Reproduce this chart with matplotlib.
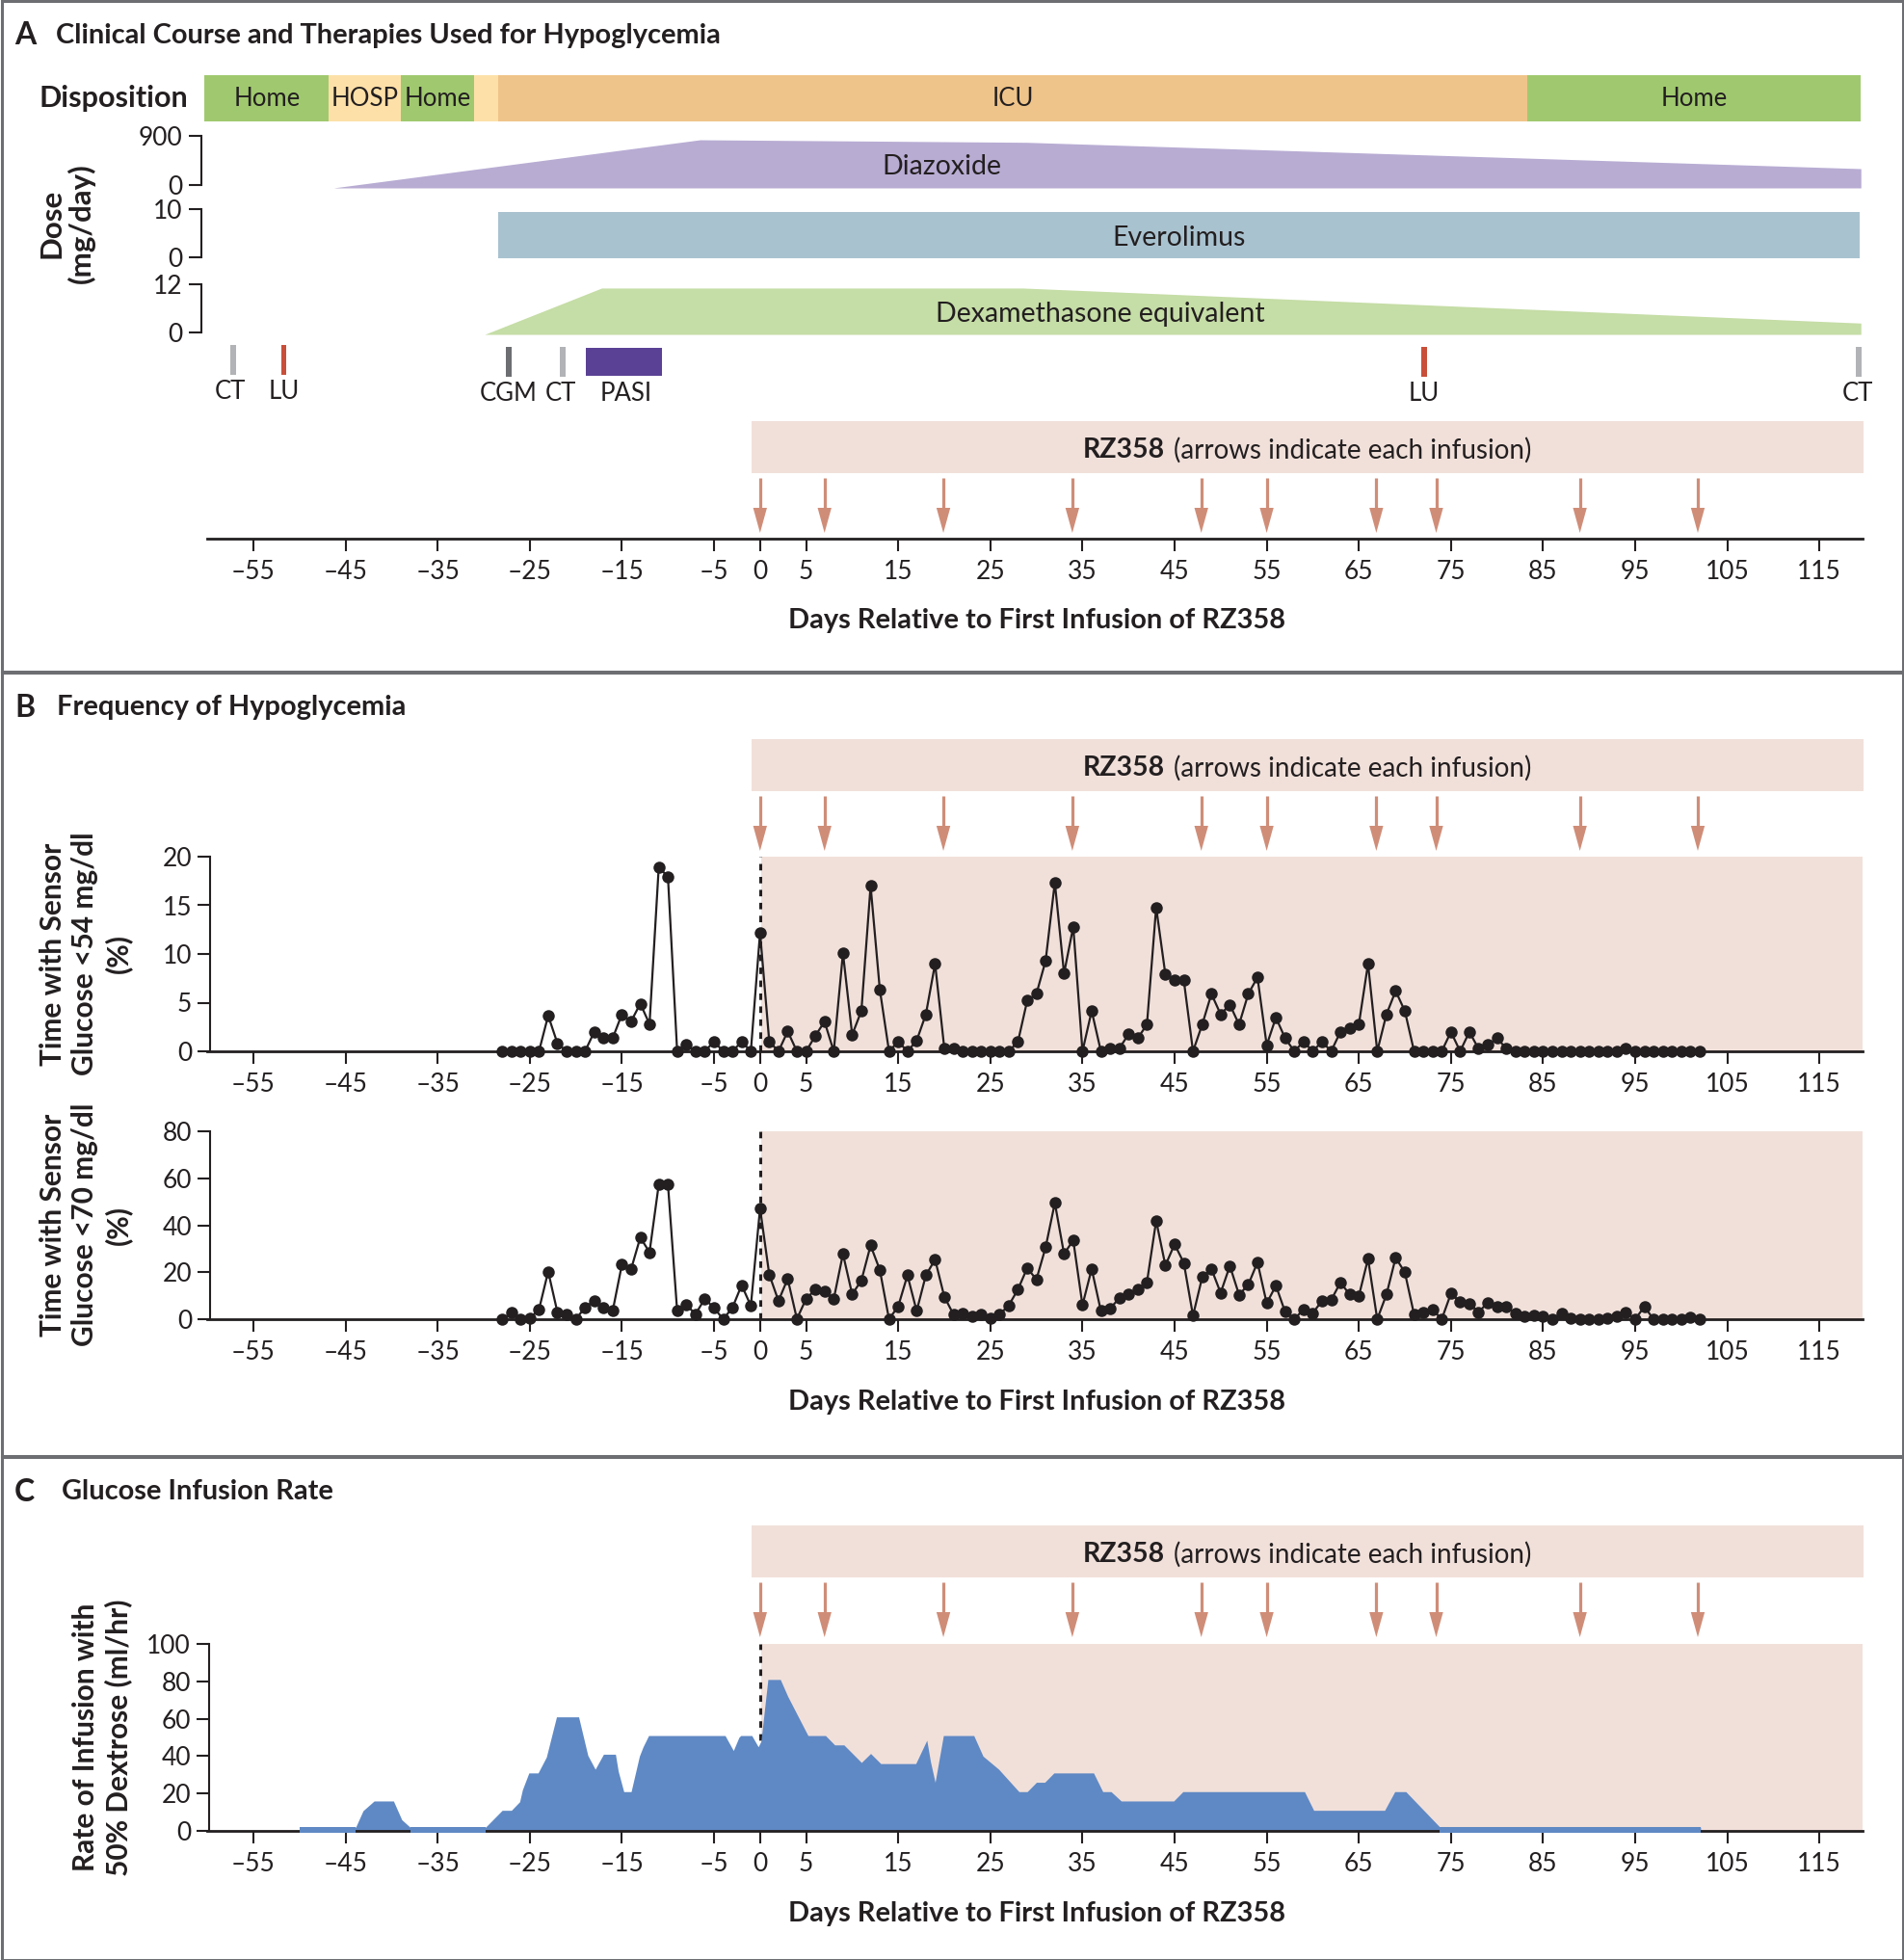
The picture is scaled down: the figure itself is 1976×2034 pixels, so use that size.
import matplotlib
matplotlib.use('Agg')
import matplotlib.pyplot as plt
from matplotlib.patches import Rectangle

W, H = 1976, 2034
plt.rcParams['font.family'] = ['Lato', 'Open Sans', 'DejaVu Sans']

INK = '#231f20'
BAND = '#f1e0da'
ARROW = '#cf8d78'
TICK_FS = 19
HEAD_FS = 20.9
YLAB_FS = 21.5

# drawn positions of the arrows
infusion_days = [0, 7, 19.9, 33.9, 47.9, 55, 66.9, 73.4, 89, 101.8]
tick_days = [-55, -45, -35, -25, -15, -5, 0, 5, 15, 25, 35, 45, 55, 65, 75, 85, 95, 105, 115]

disp_edges = [-60.3, -46.8, -39, -31, -28.4, 83.3, 119.5]
disp_labels = ['Home', 'HOSP', 'Home', '', 'ICU', 'Home']
disp_colors = ['#a0c96f', '#fde0a8', '#a0c96f', '#fde0a8', '#efc48a', '#a0c96f']

diaz_days = [-46.2, -6.5, 28.9, 119.5]
diaz_dose = [-50, 829, 782, 300]
ever_days = [-28.4, 119.4]
ever_dose = [9.4, 9.4]
dexa_days = [-29.9, -17.2, 28.5, 119.5]
dexa_dose = [-0.36, 11.07, 11.07, 2.43]

day_54 = list(range(-28, 103))
below_54 = [0, 0, 0, 0, 0, 3.67, 0.83, 0, 0, 0, 2.0, 1.35, 1.35, 3.8, 3.07, 4.9, 2.8, 18.9, 17.95, 0,
            0.7, 0, 0, 1.0, 0, 0, 1.0, 0, 12.2, 1.0, 0, 2.05, 0, 0, 1.6, 3.05, 0, 10.1, 1.7, 4.15,
            17.0, 6.35, 0, 1.0, 0, 1.1, 3.8, 9.0, 0.33, 0.33, 0, 0, 0, 0, 0, 0, 1.0, 5.2, 5.9, 9.3,
            17.35, 8.0, 12.8, 0, 4.15, 0, 0.3, 0.3, 1.75, 1.35, 2.75, 14.8, 7.9, 7.3, 7.3, 0, 2.75, 5.9, 3.8, 4.8,
            2.75, 5.9, 7.6, 0.63, 3.47, 1.35, 0, 1.0, 0, 1.0, 0, 2.0, 2.4, 2.75, 9.0, 0, 3.8, 6.2, 4.13, 0,
            0, 0, 0, 2.0, 0, 2.0, 0.26, 0.66, 1.35, 0.3, 0, 0, 0, 0, 0, 0, 0, 0, 0, 0,
            0, 0, 0.3, 0, 0, 0, 0, 0, 0, 0, 0]
below_70 = [0, 2.7, 0, 0.4, 4.1, 20.3, 3.0, 1.9, 0, 5.0, 7.9, 5.0, 3.5, 23.2, 21.3, 34.8, 28.5, 57.3, 57.5, 3.5,
            6.0, 2.2, 8.7, 4.8, 0, 4.9, 14.5, 5.7, 47.2, 19.0, 7.8, 17.2, 0.1, 8.7, 12.6, 11.7, 8.6, 27.8, 10.6, 16.5,
            31.4, 21.0, 0, 5.5, 18.7, 3.5, 18.7, 25.4, 9.6, 2.0, 2.5, 1.1, 1.9, 0.5, 2.0, 5.9, 12.7, 21.8, 16.9, 30.6,
            49.5, 27.8, 33.6, 6.0, 21.4, 3.5, 4.6, 8.9, 10.6, 12.7, 15.7, 41.9, 22.9, 31.9, 24.0, 1.5, 17.9, 21.4, 11.2, 22.7,
            10.4, 14.7, 24.2, 6.8, 14.3, 3.1, 0, 4.2, 2.6, 7.8, 8.2, 15.6, 10.6, 9.8, 25.7, 0, 10.5, 26.2, 19.9, 2.0,
            3.0, 4.1, 0, 10.9, 7.4, 6.6, 3.0, 7.1, 5.2, 5.3, 2.3, 1.1, 1.8, 1.4, 0, 2.6, 0.5, 0, 0, 0,
            0.4, 1.1, 2.9, 0, 5.3, 0, 0, 0, 0, 0.8, 0]

rate_days = [-50, -43.9, -43.1, -41.9, -39.8, -38.9, -38, -29.8, -28, -27, -26.1, -25.8, -25.1, -24.1, -23.2,
             -22.1, -19.7, -18.7, -17.9, -17, -15.7, -15.4, -14.8, -14, -13.1, -12.7, -12.1, -3.8, -2.9, -2.3,
             -2.1, -0.9, -0.2, 0.1, 0.85, 2.2, 3, 5.2, 7.1, 8.1, 9.1, 11, 12, 13.1, 16.9,
             18.1, 18.5, 19, 19.9, 23.2, 24.2, 25.9, 28.1, 29, 30, 30.9, 31.9, 36.2, 37.2, 38.1,
             39.2, 44.9, 45.9, 59.1, 60.1, 67.8, 68.9, 70.1, 73.8, 102.1]
rate_vals = [2, 2, 10.8, 16, 16, 6, 2, 2, 11, 11, 15.6, 22, 31, 31, 39.5,
             61, 61, 40.4, 33, 41, 41, 32, 21, 21, 40, 45, 51, 51, 43, 50,
             51, 51, 45, 48, 81, 81, 72, 51, 51, 46, 46, 36.6, 41.4, 36, 36,
             48.5, 37, 26, 51, 51, 40, 33, 21, 21, 26, 26, 31, 31, 21, 21,
             16, 16, 21, 21, 11, 11, 21, 21, 2, 2]


def to_day(px):
    return (px - 788.8) / 9.56


def px_axes(fig, left, top, right, bottom):
    ax = fig.add_axes([left / W, 1 - bottom / H, (right - left) / W, (bottom - top) / H])
    ax.patch.set_alpha(0)
    for s in ax.spines.values():
        s.set_visible(False)
    ax.set_xlim(to_day(left), to_day(right))
    ax.set_xticks([])
    ax.set_yticks([])
    return ax


def ftext(fig, x, y, s, **kw):
    kw.setdefault('ha', 'center')
    kw.setdefault('va', 'center')
    kw.setdefault('color', INK)
    return fig.text(x / W, 1 - y / H, s, **kw)


def rz_band(fig, top):
    # band and arrows, same block in all three panels
    ax = px_axes(fig, 215, top, 1934, top + 116)
    ax.set_ylim(116, 0)
    ax.axvspan(-0.9, 119.8, ymin=62 / 116, ymax=1, color=BAND, lw=0)
    for d in infusion_days:
        ax.plot([d, d], [58.5, 92], color=ARROW, lw=2.3, solid_capstyle='butt')
        ax.fill([d - 0.75, d + 0.75, d], [90, 90, 116], color=ARROW, lw=0)
    ftext(fig, 1124, top + 30, 'RZ358', fontsize=20.5, fontweight='bold', ha='left')
    ftext(fig, 1218, top + 30, '(arrows indicate each infusion)', fontsize=20, ha='left')


def day_axis(ax):
    ax.spines['bottom'].set_visible(True)
    ax.spines['bottom'].set_linewidth(2)
    ax.spines['bottom'].set_color(INK)
    ax.spines['bottom'].set_zorder(6)
    ax.set_xticks(tick_days)
    ax.set_xticklabels([str(t).replace('-', '\u2013') for t in tick_days], fontsize=TICK_FS, color=INK)
    ax.tick_params(axis='x', length=9.6, width=1.5, color=INK, pad=6)


def value_axis(ax, ticks, spine_day=None):
    ax.spines['left'].set_visible(True)
    ax.spines['left'].set_bounds(ticks[0], ticks[-1])
    ax.spines['left'].set_linewidth(1.5)
    ax.spines['left'].set_color(INK)
    if spine_day is not None:
        ax.spines['left'].set_position(('data', spine_day))
    ax.set_yticks(ticks)
    ax.set_yticklabels([str(t) for t in ticks], fontsize=TICK_FS, color=INK)
    ax.tick_params(axis='y', length=9.6, width=1.5, color=INK, pad=4)


def glucose_plot(fig, top, bottom, xs, ys, ymax, step):
    ax = px_axes(fig, 215, top, 1933, bottom)
    ax.set_ylim(0, ymax)
    ax.axvspan(0.1, 120, color=BAND, lw=0, zorder=0)
    ax.plot([0, 0], [0, ymax], color=INK, lw=2.2, ls=(0, (2.2, 2.2)), zorder=3)
    ax.plot(xs, ys, color=INK, lw=1.6, marker='o', ms=9, mew=0, clip_on=False, zorder=7)
    day_axis(ax)
    value_axis(ax, list(range(0, ymax + 1, step)), spine_day=to_day(218))
    return ax


fig = plt.figure(figsize=(W / 100, H / 100), dpi=100)

# panel frames
for y0, y1 in [(0, 697), (697, 1511), (1511, 2034)]:
    fig.add_artist(Rectangle((1.5 / W, 1 - (y1 - 0.5) / H), (W - 3) / W, (y1 - y0 - 1) / H, transform=fig.transFigure,
                             fill=False, ec='#6d6e71', lw=2.2))

ftext(fig, 15, 37, 'A', fontsize=23, fontweight='bold', ha='left')
ftext(fig, 58, 37, 'Clinical Course and Therapies Used for Hypoglycemia', fontsize=HEAD_FS, fontweight='bold', ha='left')
ftext(fig, 15, 734, 'B', fontsize=23, fontweight='bold', ha='left')
ftext(fig, 59, 734, 'Frequency of Hypoglycemia', fontsize=HEAD_FS, fontweight='bold', ha='left')
ftext(fig, 15, 1548, 'C', fontsize=23, fontweight='bold', ha='left')
ftext(fig, 64, 1548, 'Glucose Infusion Rate', fontsize=HEAD_FS, fontweight='bold', ha='left')

# disposition strip
ax = px_axes(fig, 212, 78, 1933, 126)
ax.set_ylim(0, 1)
for i, name in enumerate(disp_labels):
    ax.barh(0.5, disp_edges[i + 1] - disp_edges[i], left=disp_edges[i], height=1, color=disp_colors[i], lw=0)
    ax.text((disp_edges[i] + disp_edges[i + 1]) / 2, 0.5, name, ha='center', va='center', fontsize=18.5, color=INK)
ftext(fig, 195, 102, 'Disposition', fontsize=22, fontweight='bold', ha='right')

# dose strips
ax = px_axes(fig, 208.5, 141, 1933, 195)
ax.set_ylim(-53, 900)
ax.fill_between(diaz_days, diaz_dose, -53, color='#b8acd3', lw=0)
value_axis(ax, [0, 900])
ax.text(19.7, 330, 'Diazoxide', ha='center', va='center', fontsize=20.5, color=INK)

ax = px_axes(fig, 208.5, 217, 1933, 268)
ax.set_ylim(-0.2, 10)
ax.fill_between(ever_days, ever_dose, -0.2, color='#a9c2d0', lw=0)
value_axis(ax, [0, 10])
ax.text(45.5, 4.0, 'Everolimus', ha='center', va='center', fontsize=20.5, color=INK)

ax = px_axes(fig, 208.5, 295, 1933, 347)
ax.set_ylim(-0.36, 12)
ax.fill_between(dexa_days, dexa_dose, -0.36, color='#c5dda6', lw=0)
value_axis(ax, [0, 12])
ax.text(36.9, 4.6, 'Dexamethasone equivalent', ha='center', va='center', fontsize=20.5, color=INK)

ftext(fig, 69, 232, 'Dose\n(mg/day)', fontsize=22.5, fontweight='bold', rotation=90, linespacing=1.1)

# imaging and procedure marks
ax = px_axes(fig, 215, 355, 1933, 420)
ax.set_ylim(65, 0)
ax.bar(-57.2, 31, width=0.6, bottom=3, color='#b1b3b6', lw=0)
ax.bar(-51.7, 31, width=0.6, bottom=3, color='#c8503a', lw=0)
ax.bar(-27.3, 31, width=0.6, bottom=4.5, color='#6d6e71', lw=0)
ax.bar(-21.4, 31, width=0.6, bottom=4.5, color='#b1b3b6', lw=0)
ax.bar(-14.75, 29, width=8.3, bottom=6, color='#5b4195', lw=0)
ax.bar(72.1, 31, width=0.6, bottom=5, color='#c8503a', lw=0)
ax.bar(119.3, 31, width=0.6, bottom=5, color='#b1b3b6', lw=0)
for d, name, y in [(-57.5, 'CT', 52), (-51.7, 'LU', 52), (-27.3, 'CGM', 54), (-21.6, 'CT', 54),
                   (-14.6, 'PASI', 54), (72.1, 'LU', 54), (119.2, 'CT', 54)]:
    ax.text(d, y, name, ha='center', va='center', fontsize=18.5, color=INK, clip_on=False)

rz_band(fig, 437)
ax = px_axes(fig, 215, 500, 1933, 559)
day_axis(ax)
ftext(fig, 1076, 644, 'Days Relative to First Infusion of RZ358', fontsize=HEAD_FS, fontweight='bold')

# panel B
rz_band(fig, 767)
glucose_plot(fig, 889, 1091, day_54, below_54, 20, 5)
glucose_plot(fig, 1174, 1369, day_54, below_70, 80, 20)
ftext(fig, 89, 990, 'Time with Sensor\nGlucose <54 mg/dl\n(%)', fontsize=YLAB_FS, fontweight='bold', rotation=90, linespacing=1.25)
ftext(fig, 89, 1271, 'Time with Sensor\nGlucose <70 mg/dl\n(%)', fontsize=YLAB_FS, fontweight='bold', rotation=90, linespacing=1.25)
ftext(fig, 1076, 1455, 'Days Relative to First Infusion of RZ358', fontsize=HEAD_FS, fontweight='bold')

# panel C
rz_band(fig, 1583)
ax = px_axes(fig, 215, 1706, 1933, 1900)
ax.set_ylim(0, 100)
ax.axvspan(0.1, 120, color=BAND, lw=0, zorder=0)
ax.plot([0, 0], [0, 100], color=INK, lw=2.2, ls=(0, (2.2, 2.2)), zorder=1)
ax.fill_between(rate_days, rate_vals, 0, color='#5f89c4', lw=0, zorder=2)
day_axis(ax)
value_axis(ax, list(range(0, 101, 20)), spine_day=to_day(217))
ax.fill_between(rate_days, rate_vals, -1, where=[v <= 2 for v in rate_vals], color='#5f89c4', lw=0,
                zorder=8, clip_on=False)
ftext(fig, 106, 1803, 'Rate of Infusion with\n50% Dextrose (ml/hr)', fontsize=YLAB_FS, fontweight='bold', rotation=90, linespacing=1.25)
ftext(fig, 1076, 1986, 'Days Relative to First Infusion of RZ358', fontsize=HEAD_FS, fontweight='bold')

fig.savefig('out.png', dpi=100)
